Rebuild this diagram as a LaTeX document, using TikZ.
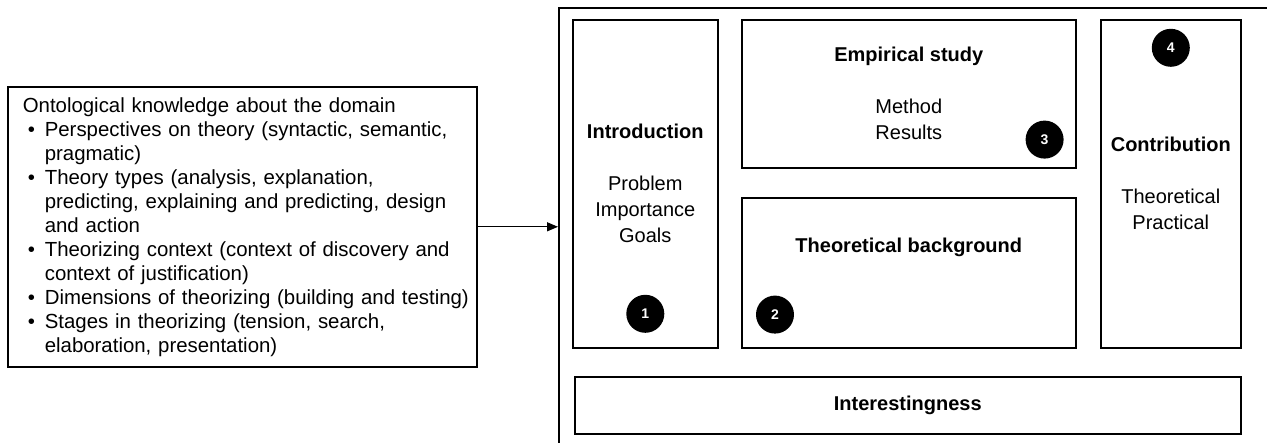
\documentclass[tikz,border=0pt]{standalone}
\usepackage{fontspec}
\setmainfont{Liberation Sans}
\usetikzlibrary{positioning,arrows.meta}

\newcommand{\bul}{\hspace*{5pt}\makebox[17pt][l]{\textbullet}}
\newcommand{\cont}{\hspace*{22pt}}

\begin{document}
\begin{tikzpicture}[x=1pt,y=-1pt,line width=1.6pt,
        box/.style={draw,rectangle,inner sep=0pt,align=center,font=\fontsize{20}{26}\selectfont},
        heading/.style={inner sep=0pt,font=\fontsize{20}{26}\selectfont\bfseries},
        badge/.style={circle,fill=black,text=white,minimum size=38pt,inner sep=0pt,
            font=\fontsize{14}{14}\selectfont\bfseries},
        every node/.style={line width=1.6pt}]
        \useasboundingbox (0,0) rectangle (1267,443);
        % Ontology box on the left
        \node[draw,rectangle,anchor=north west,minimum height=280pt,text width=439pt,
            inner xsep=15pt,inner ysep=0pt,align=left,font=\fontsize{20.4}{24}\selectfont]
            (ontology) at (7,86) {\mbox{Ontological knowledge about the domain}\\
            \mbox{\bul Perspectives on theory (syntactic, semantic,}\\
            \mbox{\cont pragmatic)}\\
            \mbox{\bul Theory types (analysis, explanation,}\\
            \mbox{\cont predicting, explaining and predicting, design}\\
            \mbox{\cont and action}\\
            \mbox{\bul Theorizing context (context of discovery and}\\
            \mbox{\cont context of justification)}\\
            \mbox{\bul Dimensions of theorizing (building and testing)}\\
            \mbox{\bul Stages in theorizing (tension, search,}\\
            \mbox{\cont elaboration, presentation)}};
        % Paper frame, cut by the picture border
        \begin{scope}
            \clip (0,0) rectangle (1267,443);
            \node[draw,rectangle,anchor=north west,minimum width=740pt,minimum height=480pt]
                (paper) at (558,7) {};
        \end{scope}
        % Sections
        \node[box,anchor=north west,minimum width=145pt,minimum height=328pt] (intro) at (572,19)
            {\textbf{Introduction}\\[26pt]Problem\\Importance\\Goals};
        \node[box,anchor=north west,minimum width=334pt,minimum height=148pt] (empirical) at (741,19)
            {\textbf{Empirical study}\\[26pt]Method\\Results};
        \node[box,anchor=north west,minimum width=334pt,minimum height=150pt] (theory) at (741,197) {};
        \node[heading] (theorytitle) at ([yshift=-50pt]theory.north) {Theoretical background};
        \node[box,anchor=north west,minimum width=140pt,minimum height=328pt] (contrib) at (1100,19)
            {\textbf{Contribution}\\[26pt]Theoretical\\Practical};
        \node[box,anchor=north west,minimum width=666pt,minimum height=57pt] (interest) at (574,376)
            {\textbf{Interestingness}};
        % Numbered badges
        \node[badge,above=15pt of intro.south] (one) {1};
        \node[badge] (two) at ([xshift=34pt,yshift=34pt]theory.south west) {2};
        \node[badge] (three) at ([xshift=-32pt,yshift=29pt]empirical.south east) {3};
        \node[badge,below=9pt of contrib.north] (four) {4};
        % Arrow into the paper
        \draw[-{Triangle[length=11pt,width=9pt]},line width=1.2pt] (ontology.east) -- (ontology.east -| paper.west);
    \end{tikzpicture}
\end{document}
